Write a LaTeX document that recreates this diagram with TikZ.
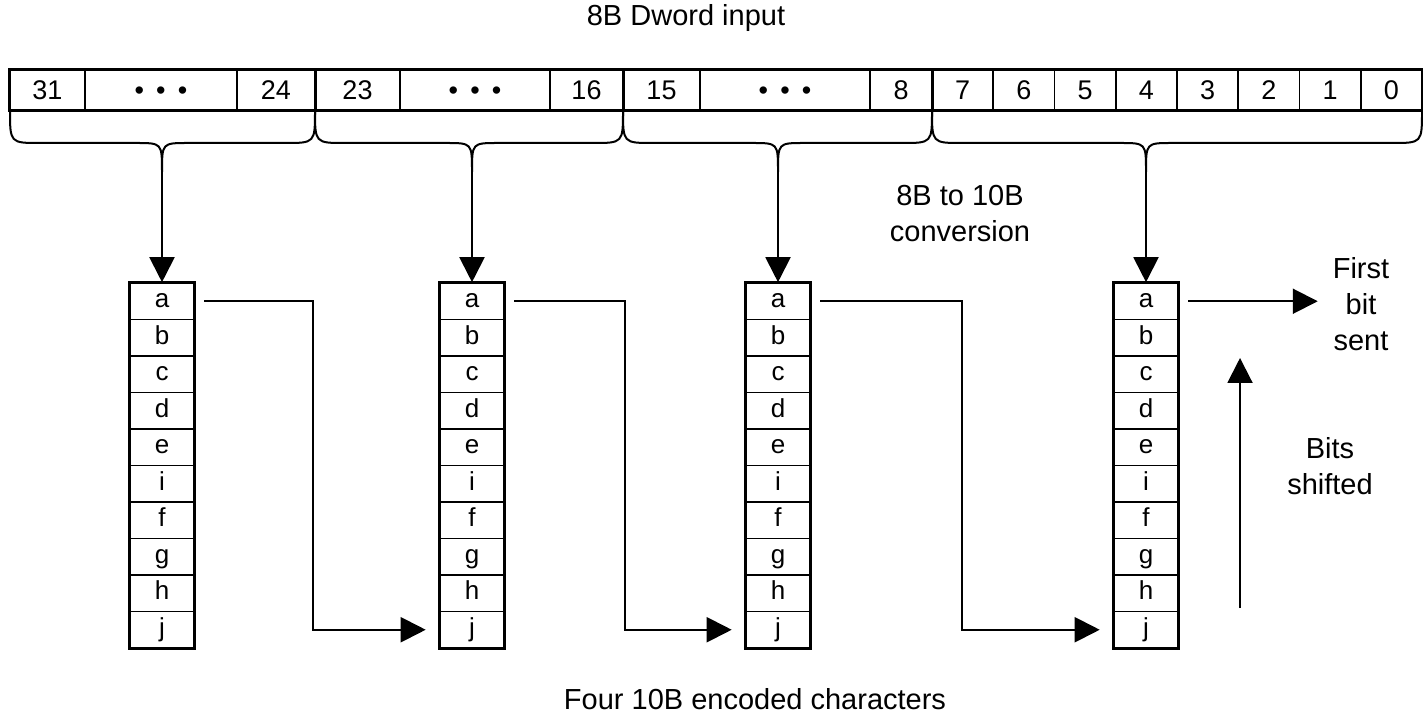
\documentclass[tikz,border=0pt]{standalone}
\usepackage{fontspec}
\setmainfont{Liberation Sans}
\usetikzlibrary{arrows.meta}

\newcommand{\bitdots}{\textbullet\hspace{0.45em}\textbullet\hspace{0.45em}\textbullet}
% brace under one byte: left end, tip, right end, name of tip
\newcommand{\bytebrace}[4]{%
  \draw[brace] (#1,110) .. controls (#1,143) .. (#1+30,143) -- (#2-26,143)
    .. controls (#2,143) .. (#2,172) coordinate (#4)
    .. controls (#2,143) .. (#2+26,143) -- (#3-30,143) .. controls (#3,143) .. (#3,110);}

\begin{document}
\begin{tikzpicture}[x=.5pt, y=-.5pt, >={Triangle[width=12.5pt,length=12.5pt]},
    bitcell/.style={draw, line width=.9pt, minimum height=20pt, inner sep=0pt,
        text height=9.7pt, text depth=0pt, font=\fontsize{13.5}{16}\selectfont},
    chcell/.style={draw, line width=.8pt, minimum width=31.5pt, minimum height=18.25pt,
        inner sep=0pt, text height=9pt, text depth=2.4pt, font=\fontsize{13}{15}\selectfont},
    lbl/.style={align=center, font=\fontsize{14.5}{18}\selectfont},
    brace/.style={line width=1pt},
    arr/.style={->, line width=1pt}]
\useasboundingbox (0,0) rectangle (1423,715);

% dword input
\node[lbl] (title) at (686,18) {8B Dword input};
\foreach \l/\r/\t [count=\i] in {10/85/31, 85/237/\bitdots, 237/315/24, 315/400/23,
        400/550/\bitdots, 550/623/16, 623/700/15, 700/870/\bitdots, 870/932/8}
    \node[bitcell, minimum width={(\r-\l)*.5pt}] (w\i) at ({(\l+\r)/2},90) {\t};
\foreach \b in {0,...,7}
    \node[bitcell, minimum width=30.625pt] (bit\b) at ({1422-61.25*(\b+.5)},90) {\b};
\draw[line width=1.5pt] (w1.north west) rectangle (bit0.south east);
\draw[line width=1.5pt] (w3.north east)--(w3.south east)
    (w6.north east)--(w6.south east) (w9.north east)--(w9.south east);

% braces
\bytebrace{10}{162}{315}{t1}
\bytebrace{315}{472}{623}{t2}
\bytebrace{623}{778}{932}{t3}
\bytebrace{932}{1146}{1422}{t4}

% 10B characters
\foreach \col/\cx in {1/162, 2/472, 3/778, 4/1146} {
    \foreach \lt [count=\i] in {a,b,c,d,e,i,f,g,h,j}
        \node[chcell] (c\col\lt) at (\cx,{283+36.5*\i-18.25}) {\lt};
    \draw[line width=1.5pt] (c\col a.north west) rectangle (c\col j.south east);
    \draw[arr] (t\col) -- (c\col a.north);
}

% serial chaining
\coordinate (k1) at (313,460);
\coordinate (k2) at (625,460);
\coordinate (k3) at (962,460);
\draw[arr] ([xshift=5pt]c1a.east) -| (k1) |- ([xshift=-7pt]c2j.west);
\draw[arr] ([xshift=5pt]c2a.east) -| (k2) |- ([xshift=-7pt]c3j.west);
\draw[arr] ([xshift=5pt]c3a.east) -| (k3) |- ([xshift=-7pt]c4j.west);

\node[lbl] (conv) at (960,214) {8B to 10B\\conversion};
\node[lbl] (first) at (1361,304) {First\\bit\\sent};
\draw[arr] ([xshift=5pt]c4a.east) -- ([xshift=-4pt]first.west |- c4a.east);
\node[lbl] (shift) at (1330,466) {Bits\\shifted};
\coordinate (u1) at (1240,608);
\coordinate (u2) at (1240,358);
\draw[arr] (u1) -- (u2);

\node[lbl] (foot) at (755,699) {Four 10B encoded characters};
\end{tikzpicture}
\end{document}
